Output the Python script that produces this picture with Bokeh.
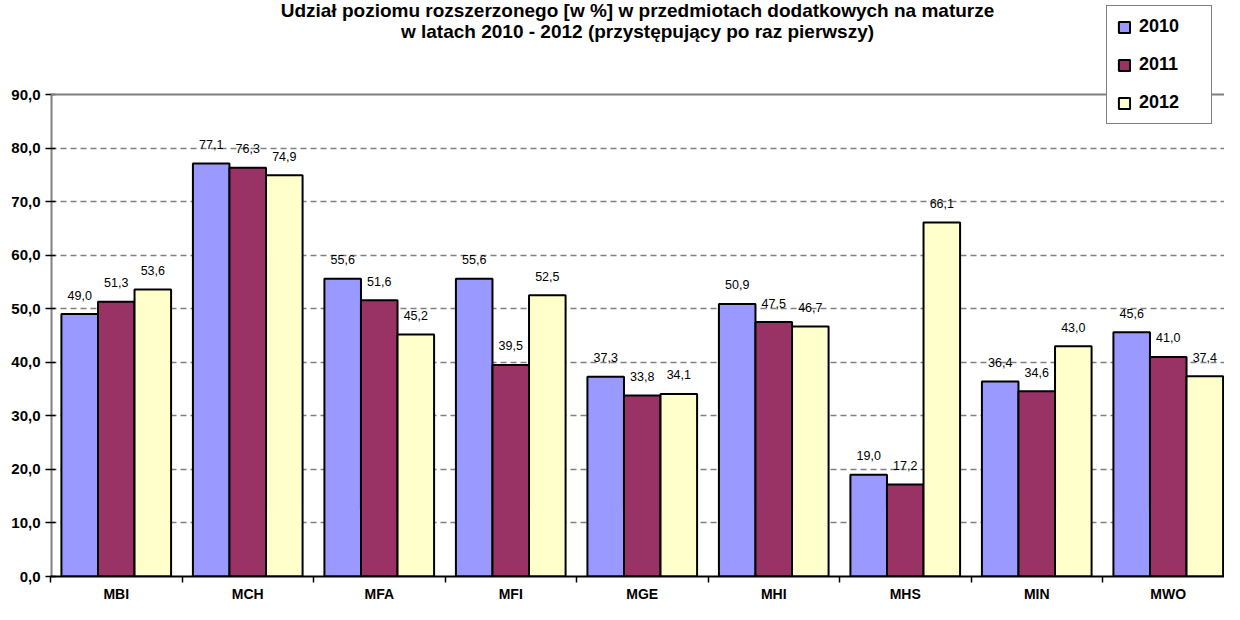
from bokeh.plotting import figure
from bokeh.models import (Range1d, FixedTicker, ColumnDataSource, LabelSet, Legend,
                          LegendItem, Span, CustomJSTickFormatter, Label)
from bokeh.core.properties import value
from bokeh.embed import file_html
from bokeh.resources import INLINE

categories = ["MBI", "MCH", "MFA", "MFI", "MGE", "MHI", "MHS", "MIN", "MWO"]
years = ["2010", "2011", "2012"]
v2010 = [49.0, 77.1, 55.6, 55.6, 37.3, 50.9, 19.0, 36.4, 45.6]
v2011 = [51.3, 76.3, 51.6, 39.5, 33.8, 47.5, 17.2, 34.6, 41.0]
v2012 = [53.6, 74.9, 45.2, 52.5, 34.1, 46.7, 66.1, 43.0, 37.4]
y_ticks = [0, 10, 20, 30, 40, 50, 60, 70, 80, 90]
title_line1 = "Udział poziomu rozszerzonego [w %] w przedmiotach dodatkowych na maturze"
title_line2 = "w latach 2010 - 2012 (przystępujący po raz pierwszy)"

colors = ["#9999FF", "#993366", "#FFFFCC"]
FONT = "Liberation Sans"
bar_w = 0.278

W, H = 1224, 604
LEFT, BOTTOM = 50, 28
TOP90 = 94                      # pixel row (from canvas top) of the value 90
frame_h = H - BOTTOM
ppu = (frame_h - TOP90) / 90.0  # pixels per unit
y_top = 90 + TOP90 / ppu
cat_px = 131.5
x_end = (W - LEFT) / cat_px

def y_at(px):
    """data value at a pixel row measured from canvas top"""
    return 90 + (TOP90 - px) / ppu

p = figure(width=W, height=H, output_backend="svg", toolbar_location=None,
           x_range=Range1d(0, x_end), y_range=Range1d(0, y_top),
           min_border_top=0, min_border_left=LEFT, min_border_right=0,
           min_border_bottom=BOTTOM)
p.outline_line_color = None
p.background_fill_color = "white"

centers = [i + 0.5 for i in range(len(categories))]

items = []
for k, (yr, vals, col) in enumerate(zip(years, [v2010, v2011, v2012], colors)):
    off = (k - 1) * bar_w
    xs = [c + off for c in centers]
    src = ColumnDataSource(dict(x=xs, top=vals,
                                lbl=[f"{v:.1f}".replace(".", ",") for v in vals]))
    r = p.vbar(x="x", top="top", width=bar_w, source=src, fill_color=col,
               line_color="black", line_width=2)
    items.append(LegendItem(label=yr, renderers=[r]))
    p.add_layout(LabelSet(x="x", y="top", text="lbl", source=src, y_offset=19,
                          text_align="center", text_baseline="middle",
                          text_font=value(FONT), text_font_size="12.5px", text_color="black"))

# grid
p.xgrid.grid_line_color = None
p.ygrid.grid_line_color = "#808080"
p.ygrid.grid_line_dash = "6 4"
p.ygrid.grid_line_width = 1.5
p.ygrid.ticker = FixedTicker(ticks=y_ticks[1:-1])

# top border line at 90
p.add_layout(Span(location=90, dimension="width", line_color="#808080", line_width=2))
# y axis line only from 0 to 90
p.segment(x0=[0], y0=[0], x1=[0], y1=[90], line_color="#808080", line_width=4)

# y axis
p.yaxis.ticker = FixedTicker(ticks=y_ticks)
p.yaxis.formatter = CustomJSTickFormatter(code="return tick.toFixed(1).replace('.', ',');")
p.yaxis.axis_line_color = None
p.yaxis.major_tick_in = 5
p.yaxis.major_tick_out = 5
p.yaxis.major_tick_line_color = "black"
p.yaxis.major_tick_line_width = 1.5
p.yaxis.minor_tick_line_color = None
p.yaxis.major_label_text_font = FONT
p.yaxis.major_label_text_font_style = "bold"
p.yaxis.major_label_text_font_size = "15px"
p.yaxis.major_label_text_color = "black"
p.yaxis.major_label_standoff = 5

# x axis
p.xaxis.ticker = FixedTicker(ticks=centers, minor_ticks=list(range(len(categories) + 1)))
p.xaxis.major_label_overrides = {c: n for c, n in zip(centers, categories)}
p.xaxis.axis_line_color = "black"
p.xaxis.axis_line_width = 2
p.xaxis.major_tick_line_color = None
p.xaxis.minor_tick_in = 0
p.xaxis.minor_tick_out = 6
p.xaxis.minor_tick_line_color = "black"
p.xaxis.minor_tick_line_width = 1.5
p.xaxis.major_label_text_font = FONT
p.xaxis.major_label_text_font_style = "bold"
p.xaxis.major_label_text_font_size = "14px"
p.xaxis.major_label_text_color = "black"
p.xaxis.major_label_standoff = 3

# title (two lines) inside the top part of the frame
title_x = (637 - LEFT) / cat_px
for txt, py in [(title_line1, 10), (title_line2, 31)]:
    p.add_layout(Label(x=title_x, y=y_at(py), text=txt, text_align="center",
                       text_baseline="middle", text_font=FONT,
                       text_font_style="bold", text_font_size="19px", text_color="black"))

legend = Legend(items=items, location=(1056, frame_h - 124), orientation="vertical")
legend.label_text_font = FONT
legend.label_text_font_style = "bold"
legend.label_text_font_size = "18px"
legend.label_text_color = "black"
legend.glyph_width = 14
legend.glyph_height = 14
legend.label_height = 20
legend.label_width = 62
legend.label_standoff = 8
legend.spacing = 17
legend.padding = 10
legend.margin = 0
legend.border_line_color = "black"
legend.border_line_width = 1.5
legend.background_fill_color = "white"
legend.background_fill_alpha = 1
p.add_layout(legend)

open("out.html", "w").write(file_html(p, INLINE))
